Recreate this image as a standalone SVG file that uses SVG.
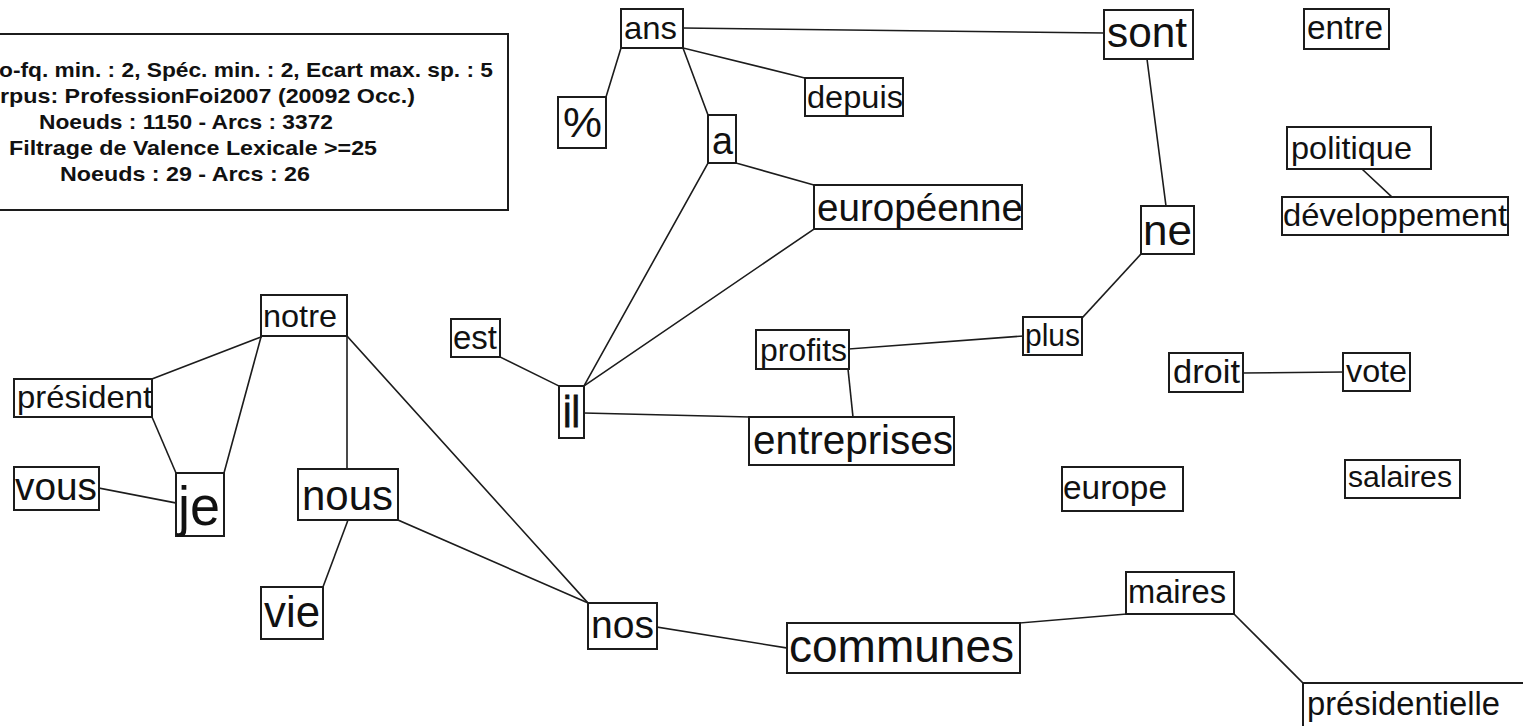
<svg xmlns="http://www.w3.org/2000/svg" width="1523" height="726" viewBox="0 0 1523 726">
<style>
.bg{fill:#ffffff}
.box{fill:#ffffff;stroke:#1c1c1c;stroke-width:2}
.edge{stroke:#1c1c1c;stroke-width:1.6;fill:none;stroke-linecap:square}
.lbl{font-family:"Liberation Sans",Arial,sans-serif;fill:#111111}
.info{font-family:"Liberation Sans",Arial,sans-serif;font-weight:bold;font-size:20.5px;fill:#111111}
</style>
<rect class="bg" x="0" y="0" width="1523" height="726"/>

<g id="info">
<rect class="box" x="-140" y="34" width="648" height="176"/>
<text class="info" x="-1" y="77" textLength="494" lengthAdjust="spacingAndGlyphs">o-fq. min. : 2, Spéc. min. : 2, Ecart max. sp. : 5</text>
<text class="info" x="0" y="103" textLength="415" lengthAdjust="spacingAndGlyphs">rpus: ProfessionFoi2007 (20092 Occ.)</text>
<text class="info" x="39" y="129" textLength="294" lengthAdjust="spacingAndGlyphs">Noeuds : 1150 - Arcs : 3372</text>
<text class="info" x="9" y="155" textLength="368" lengthAdjust="spacingAndGlyphs">Filtrage de Valence Lexicale &gt;=25</text>
<text class="info" x="60" y="181" textLength="250" lengthAdjust="spacingAndGlyphs">Noeuds : 29 - Arcs : 26</text>
</g>

<g id="connectors">
<line class="edge" x1="683" y1="28" x2="1104" y2="33"/>
<line class="edge" x1="621" y1="48" x2="606" y2="97"/>
<line class="edge" x1="683" y1="48" x2="805" y2="78"/>
<line class="edge" x1="683" y1="48" x2="708" y2="115"/>
<line class="edge" x1="736" y1="163" x2="814" y2="185"/>
<line class="edge" x1="708" y1="163" x2="584" y2="386"/>
<line class="edge" x1="814" y1="229" x2="584" y2="386"/>
<line class="edge" x1="500" y1="357" x2="559" y2="386"/>
<line class="edge" x1="584" y1="413" x2="749" y2="417"/>
<line class="edge" x1="848" y1="369" x2="853" y2="417"/>
<line class="edge" x1="849" y1="349" x2="1023" y2="336"/>
<line class="edge" x1="1082" y1="318" x2="1141" y2="254"/>
<line class="edge" x1="1147" y1="59" x2="1166" y2="206"/>
<line class="edge" x1="1362" y1="169" x2="1392" y2="197"/>
<line class="edge" x1="1243" y1="373" x2="1343" y2="372"/>
<line class="edge" x1="261" y1="337" x2="152" y2="379"/>
<line class="edge" x1="261" y1="337" x2="224" y2="473"/>
<line class="edge" x1="152" y1="417" x2="176" y2="473"/>
<line class="edge" x1="99" y1="488" x2="176" y2="503"/>
<line class="edge" x1="347" y1="336" x2="347" y2="469"/>
<line class="edge" x1="347" y1="336" x2="588" y2="603"/>
<line class="edge" x1="398" y1="520" x2="588" y2="603"/>
<line class="edge" x1="348" y1="520" x2="323" y2="587"/>
<line class="edge" x1="657" y1="627" x2="787" y2="648"/>
<line class="edge" x1="1020" y1="623" x2="1126" y2="614"/>
<line class="edge" x1="1234" y1="614" x2="1303" y2="683"/>
</g>

<g id="n-ans"><rect class="box" x="621" y="9" width="62" height="39"/><text class="lbl" x="624" y="39" font-size="32" textLength="53" lengthAdjust="spacingAndGlyphs">ans</text></g>
<g id="n-pct"><rect class="box" x="558" y="97" width="48" height="51"/><text class="lbl" x="563" y="137" font-size="42" textLength="39" lengthAdjust="spacingAndGlyphs">%</text></g>
<g id="n-depuis"><rect class="box" x="805" y="78" width="98" height="38"/><text class="lbl" x="807" y="108" font-size="31" textLength="96" lengthAdjust="spacingAndGlyphs">depuis</text></g>
<g id="n-a"><rect class="box" x="708" y="115" width="28" height="48"/><text class="lbl" x="712" y="154" font-size="38" textLength="21" lengthAdjust="spacingAndGlyphs">a</text></g>
<g id="n-europeenne"><rect class="box" x="814" y="185" width="208" height="44"/><text class="lbl" x="817" y="221" font-size="38" textLength="206" lengthAdjust="spacingAndGlyphs">européenne</text></g>
<g id="n-sont"><rect class="box" x="1104" y="10" width="89" height="49"/><text class="lbl" x="1107" y="47" font-size="42" textLength="80" lengthAdjust="spacingAndGlyphs">sont</text></g>
<g id="n-entre"><rect class="box" x="1304" y="9" width="85" height="40"/><text class="lbl" x="1307" y="39" font-size="33" textLength="76" lengthAdjust="spacingAndGlyphs">entre</text></g>
<g id="n-politique"><rect class="box" x="1287" y="127" width="144" height="42"/><text class="lbl" x="1291" y="159" font-size="32" textLength="121" lengthAdjust="spacingAndGlyphs">politique</text></g>
<g id="n-developpement"><rect class="box" x="1282" y="197" width="226" height="38"/><text class="lbl" x="1283" y="226" font-size="32" textLength="224" lengthAdjust="spacingAndGlyphs">développement</text></g>
<g id="n-ne"><rect class="box" x="1141" y="206" width="53" height="48"/><text class="lbl" x="1143" y="245" font-size="42" textLength="49" lengthAdjust="spacingAndGlyphs">ne</text></g>
<g id="n-notre"><rect class="box" x="261" y="295" width="86" height="41"/><text class="lbl" x="263" y="327" font-size="32" textLength="74" lengthAdjust="spacingAndGlyphs">notre</text></g>
<g id="n-president"><rect class="box" x="14" y="379" width="138" height="38"/><text class="lbl" x="17" y="408" font-size="32" textLength="135" lengthAdjust="spacingAndGlyphs">président</text></g>
<g id="n-vous"><rect class="box" x="14" y="467" width="85" height="43"/><text class="lbl" x="15" y="500" font-size="38" textLength="82" lengthAdjust="spacingAndGlyphs">vous</text></g>
<g id="n-je"><rect class="box" x="176" y="473" width="48" height="63"/><text class="lbl" x="178" y="525" font-size="55" textLength="42" lengthAdjust="spacingAndGlyphs">je</text></g>
<g id="n-nous"><rect class="box" x="298" y="469" width="100" height="51"/><text class="lbl" x="302" y="510" font-size="43" textLength="91" lengthAdjust="spacingAndGlyphs">nous</text></g>
<g id="n-vie"><rect class="box" x="261" y="587" width="62" height="52"/><text class="lbl" x="264" y="627" font-size="44" textLength="56" lengthAdjust="spacingAndGlyphs">vie</text></g>
<g id="n-est"><rect class="box" x="451" y="319" width="49" height="38"/><text class="lbl" x="453" y="349" font-size="33" textLength="44" lengthAdjust="spacingAndGlyphs">est</text></g>
<g id="n-il"><rect class="box" x="559" y="386" width="25" height="52"/><text class="lbl" x="563" y="427" font-size="44" textLength="17" lengthAdjust="spacingAndGlyphs" stroke="#111" stroke-width="0.8">il</text></g>
<g id="n-profits"><rect class="box" x="756" y="330" width="93" height="39"/><text class="lbl" x="760" y="361" font-size="32" textLength="87" lengthAdjust="spacingAndGlyphs">profits</text></g>
<g id="n-plus"><rect class="box" x="1023" y="317" width="59" height="38"/><text class="lbl" x="1025" y="346" font-size="31" textLength="55" lengthAdjust="spacingAndGlyphs">plus</text></g>
<g id="n-entreprises"><rect class="box" x="749" y="417" width="205" height="48"/><text class="lbl" x="753" y="454" font-size="40" textLength="200" lengthAdjust="spacingAndGlyphs">entreprises</text></g>
<g id="n-nos"><rect class="box" x="588" y="603" width="69" height="46"/><text class="lbl" x="591" y="638" font-size="39" textLength="63" lengthAdjust="spacingAndGlyphs">nos</text></g>
<g id="n-communes"><rect class="box" x="787" y="623" width="233" height="50"/><text class="lbl" x="789" y="662" font-size="46" textLength="225" lengthAdjust="spacingAndGlyphs">communes</text></g>
<g id="n-europe"><rect class="box" x="1062" y="467" width="121" height="44"/><text class="lbl" x="1063" y="499" font-size="33" textLength="104" lengthAdjust="spacingAndGlyphs">europe</text></g>
<g id="n-droit"><rect class="box" x="1169" y="353" width="74" height="39"/><text class="lbl" x="1173" y="383" font-size="34" textLength="67" lengthAdjust="spacingAndGlyphs">droit</text></g>
<g id="n-vote"><rect class="box" x="1343" y="353" width="67" height="38"/><text class="lbl" x="1346" y="382" font-size="32" textLength="61" lengthAdjust="spacingAndGlyphs">vote</text></g>
<g id="n-salaires"><rect class="box" x="1345" y="460" width="115" height="38"/><text class="lbl" x="1348" y="487" font-size="30" textLength="104" lengthAdjust="spacingAndGlyphs">salaires</text></g>
<g id="n-maires"><rect class="box" x="1126" y="572" width="108" height="42"/><text class="lbl" x="1128" y="603" font-size="33" textLength="98" lengthAdjust="spacingAndGlyphs">maires</text></g>
<g id="n-presidentielle"><rect class="box" x="1303" y="683" width="230" height="55"/><text class="lbl" x="1307" y="715" font-size="33" textLength="193" lengthAdjust="spacingAndGlyphs">présidentielle</text></g>
</svg>
